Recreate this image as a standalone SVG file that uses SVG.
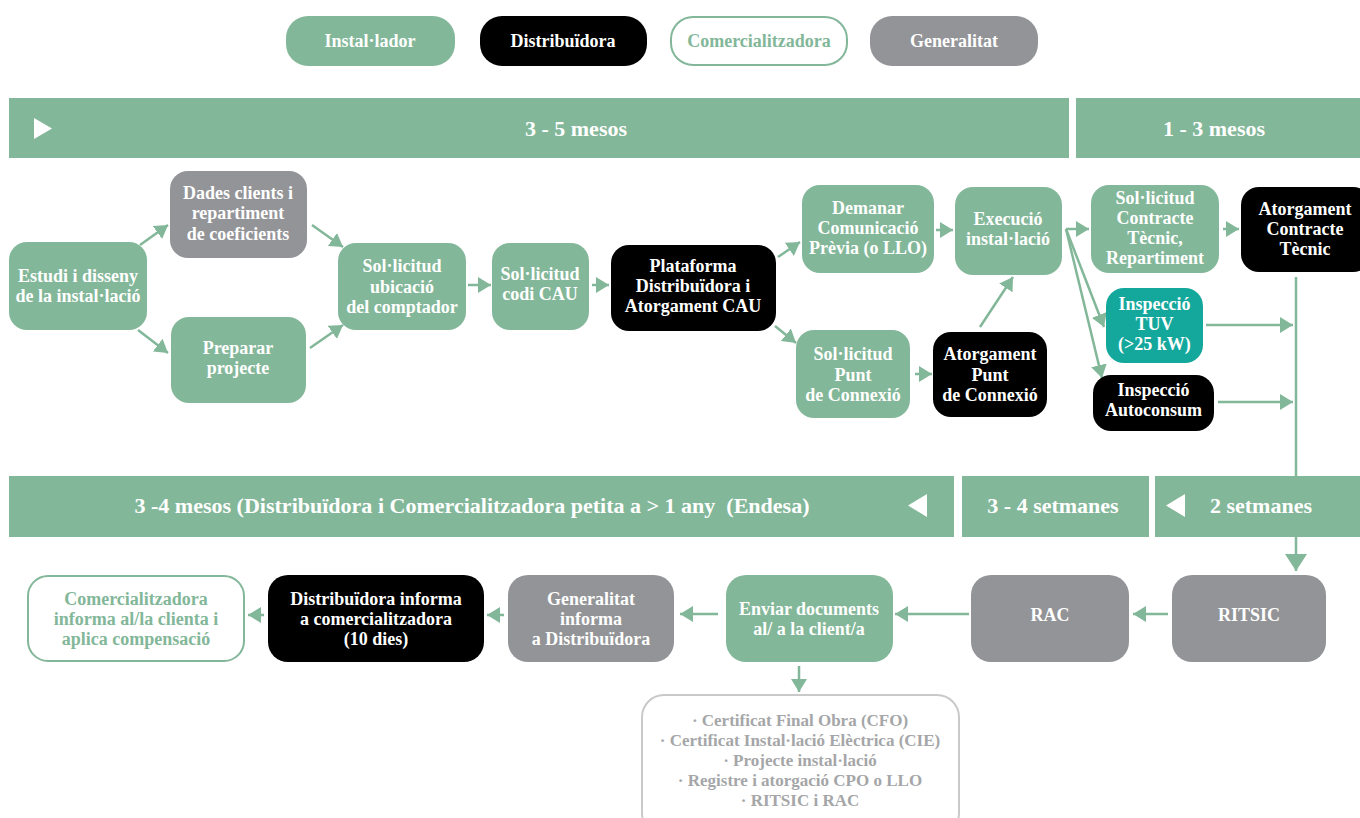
<svg xmlns="http://www.w3.org/2000/svg" width="1360" height="818" viewBox="0 0 1360 818">
<defs>
<style>
.g{fill:#83b799}
.k{fill:#000}
.gr{fill:#939497}
.tl{fill:#14a89d}
.t{font-family:"Liberation Serif",serif;font-weight:bold;font-size:18px;fill:#fff;text-anchor:middle}
.lg{font-size:18px}
.gt{fill:#83b799}
.bt{font-size:22px}
.dt{font-family:"Liberation Serif",serif;font-weight:bold;font-size:17px;fill:#a5a6a8;text-anchor:middle}
.c{stroke:#83b799;stroke-width:2.5;fill:none}
</style>
<marker id="a" markerUnits="userSpaceOnUse" markerWidth="13" markerHeight="16" refX="13" refY="8" orient="auto"><path d="M0,0 L13,8 L0,16 z" fill="#83b799"/></marker>
<marker id="b" markerUnits="userSpaceOnUse" markerWidth="17" markerHeight="22" refX="17" refY="11" orient="auto"><path d="M0,0 L17,11 L0,22 z" fill="#83b799"/></marker>
</defs>
<rect width="1360" height="818" fill="#fff"/>

<g id="legend">
<rect x="286" y="16" width="169" height="50" rx="22" class="g"/>
<text x="370" y="47" class="t lg">Instal·lador</text>
<rect x="480" y="16" width="167" height="50" rx="22" class="k"/>
<text x="563" y="47" class="t lg">Distribuïdora</text>
<rect x="671" y="17" width="176" height="48" rx="22" fill="#fff" stroke="#83b799" stroke-width="2"/>
<text x="759" y="47" class="t lg gt">Comercialitzadora</text>
<rect x="870" y="16" width="168" height="50" rx="22" class="gr"/>
<text x="954" y="47" class="t lg">Generalitat</text>
</g>

<g id="bands">
<rect x="9" y="98" width="1060" height="60" class="g"/>
<path d="M34,118 L52,128.5 L34,139 z" fill="#fff"/>
<text x="576" y="136" class="t bt">3 - 5 mesos</text>
<rect x="1076" y="98" width="284" height="60" class="g"/>
<text x="1214" y="136" class="t bt">1 - 3 mesos</text>
<rect x="9" y="476" width="945" height="61" class="g"/>
<text x="472" y="513" class="t bt" textLength="675" lengthAdjust="spacingAndGlyphs">3 -4 mesos (Distribuïdora i Comercialitzadora petita a &gt; 1 any&#160; (Endesa)</text>
<path d="M927,494 L908,505.5 L927,517 z" fill="#fff"/>
<rect x="962" y="476" width="187" height="61" class="g"/>
<text x="1053" y="513" class="t bt">3 - 4 setmanes</text>
<rect x="1155" y="476" width="205" height="61" class="g"/>
<path d="M1185,494 L1166,505.5 L1185,517 z" fill="#fff"/>
<text x="1261" y="513" class="t bt">2 setmanes</text>
</g>

<g id="connectors">
<line x1="140" y1="245" x2="168" y2="225" class="c" marker-end="url(#a)"/>
<line x1="138" y1="330" x2="168" y2="353" class="c" marker-end="url(#a)"/>
<line x1="312" y1="225" x2="343" y2="247" class="c" marker-end="url(#a)"/>
<line x1="310" y1="348" x2="343" y2="325" class="c" marker-end="url(#a)"/>
<line x1="468" y1="285" x2="491" y2="285" class="c" marker-end="url(#a)"/>
<line x1="592" y1="285" x2="609" y2="285" class="c" marker-end="url(#a)"/>
<line x1="778" y1="257" x2="800" y2="242" class="c" marker-end="url(#a)"/>
<line x1="775" y1="326" x2="796" y2="343" class="c" marker-end="url(#a)"/>
<line x1="936" y1="230" x2="953" y2="230" class="c" marker-end="url(#a)"/>
<line x1="915" y1="374" x2="932" y2="374" class="c" marker-end="url(#a)"/>
<line x1="980" y1="327" x2="1013" y2="277" class="c" marker-end="url(#a)"/>
<line x1="1066" y1="229" x2="1089" y2="229" class="c" marker-end="url(#a)"/>
<line x1="1066" y1="229" x2="1104" y2="327" class="c" marker-end="url(#a)"/>
<line x1="1066" y1="229" x2="1102" y2="378" class="c" marker-end="url(#a)"/>
<line x1="1223" y1="229" x2="1239" y2="229" class="c" marker-end="url(#a)"/>
<line x1="1206" y1="325" x2="1293" y2="325" class="c" marker-end="url(#a)"/>
<line x1="1218" y1="402" x2="1293" y2="402" class="c" marker-end="url(#a)"/>
<line x1="1296" y1="277" x2="1296" y2="476" class="c"/>
<line x1="1296" y1="537" x2="1296" y2="571" class="c" marker-end="url(#b)"/>
<line x1="1168" y1="614" x2="1133" y2="614" class="c" marker-end="url(#a)"/>
<line x1="969" y1="614" x2="895" y2="614" class="c" marker-end="url(#a)"/>
<line x1="718" y1="614" x2="680" y2="614" class="c" marker-end="url(#a)"/>
<line x1="504" y1="615" x2="487" y2="615" class="c" marker-end="url(#a)"/>
<line x1="264" y1="615" x2="248" y2="615" class="c" marker-end="url(#a)"/>
<line x1="799" y1="666" x2="799" y2="692" class="c" marker-end="url(#a)"/>
</g>

<g id="estudi">
<rect x="9" y="242" width="138" height="88" rx="18" class="g"/>
<text x="78" y="282" class="t">Estudi i disseny</text>
<text x="78" y="302" class="t">de la instal·lació</text>
</g>
<g id="dades">
<rect x="170" y="171" width="137" height="87" rx="18" class="gr"/>
<text x="238" y="199" class="t">Dades clients i</text>
<text x="238" y="219" class="t">repartiment</text>
<text x="238" y="240" class="t">de coeficients</text>
</g>
<g id="preparar">
<rect x="171" y="317" width="135" height="86" rx="18" class="g"/>
<text x="238" y="354" class="t">Preparar</text>
<text x="238" y="374" class="t">projecte</text>
</g>
<g id="ubicacio">
<rect x="338" y="243" width="128" height="87" rx="18" class="g"/>
<text x="402" y="272" class="t">Sol·licitud</text>
<text x="402" y="293" class="t">ubicació</text>
<text x="402" y="313" class="t">del comptador</text>
</g>
<g id="codicau">
<rect x="492" y="243" width="97" height="87" rx="18" class="g"/>
<text x="540" y="280" class="t">Sol·licitud</text>
<text x="540" y="300" class="t">codi CAU</text>
</g>
<g id="plataforma">
<rect x="611" y="245" width="165" height="86" rx="18" class="k"/>
<text x="693" y="272" class="t">Plataforma</text>
<text x="693" y="292" class="t">Distribuïdora i</text>
<text x="693" y="312" class="t">Atorgament CAU</text>
</g>
<g id="demanar">
<rect x="802" y="185" width="132" height="88" rx="18" class="g"/>
<text x="868" y="214" class="t">Demanar</text>
<text x="868" y="234" class="t">Comunicació</text>
<text x="868" y="254" class="t">Prèvia (o LLO)</text>
</g>
<g id="execucio">
<rect x="955" y="187" width="107" height="88" rx="18" class="g"/>
<text x="1008" y="225" class="t">Execució</text>
<text x="1008" y="245" class="t">instal·lació</text>
</g>
<g id="solpunt">
<rect x="796" y="330" width="114" height="88" rx="18" class="g"/>
<text x="853" y="360" class="t">Sol·licitud</text>
<text x="853" y="381" class="t">Punt</text>
<text x="853" y="401" class="t">de Connexió</text>
</g>
<g id="atorgpunt">
<rect x="933" y="332" width="114" height="85" rx="18" class="k"/>
<text x="990" y="360" class="t">Atorgament</text>
<text x="990" y="381" class="t">Punt</text>
<text x="990" y="401" class="t">de Connexió</text>
</g>
<g id="solcontracte">
<rect x="1091" y="185" width="128" height="88" rx="18" class="g"/>
<text x="1155" y="204" class="t">Sol·licitud</text>
<text x="1155" y="224" class="t">Contracte</text>
<text x="1155" y="244" class="t">Tècnic,</text>
<text x="1155" y="264" class="t">Repartiment</text>
</g>
<g id="atorgcontracte">
<rect x="1241" y="187" width="130" height="85" rx="18" class="k"/>
<text x="1305" y="215" class="t">Atorgament</text>
<text x="1305" y="235" class="t">Contracte</text>
<text x="1305" y="255" class="t">Tècnic</text>
</g>
<g id="tuv">
<rect x="1106" y="288" width="97" height="75" rx="18" class="tl"/>
<text x="1154.5" y="310" class="t">Inspecció</text>
<text x="1154.5" y="330" class="t">TUV</text>
<text x="1154.5" y="350" class="t">(&gt;25 kW)</text>
</g>
<g id="autoconsum">
<rect x="1093" y="375" width="121" height="56" rx="18" class="k"/>
<text x="1153.5" y="396" class="t">Inspecció</text>
<text x="1153.5" y="416" class="t">Autoconsum</text>
</g>

<g id="ritsic">
<rect x="1172" y="575" width="154" height="87" rx="20" class="gr"/>
<text x="1249" y="621" class="t">RITSIC</text>
</g>
<g id="rac">
<rect x="971" y="575" width="158" height="87" rx="20" class="gr"/>
<text x="1050" y="621" class="t">RAC</text>
</g>
<g id="enviar">
<rect x="726" y="575" width="167" height="87" rx="20" class="g"/>
<text x="809" y="615" class="t">Enviar documents</text>
<text x="809" y="635" class="t">al/ a la client/a</text>
</g>
<g id="generalitat">
<rect x="508" y="575" width="166" height="87" rx="20" class="gr"/>
<text x="591" y="605" class="t">Generalitat</text>
<text x="591" y="625" class="t">informa</text>
<text x="591" y="645" class="t">a Distribuïdora</text>
</g>
<g id="distinforma">
<rect x="268" y="575" width="216" height="87" rx="20" class="k"/>
<text x="376" y="605" class="t">Distribuïdora informa</text>
<text x="376" y="625" class="t">a comercialitzadora</text>
<text x="376" y="645" class="t">(10 dies)</text>
</g>
<g id="cominforma">
<rect x="28" y="576" width="216" height="85" rx="20" fill="#fff" stroke="#83b799" stroke-width="2"/>
<text x="136" y="605" class="t gt">Comercialitzadora</text>
<text x="136" y="625" class="t gt">informa al/la clienta i</text>
<text x="136" y="645" class="t gt">aplica compensació</text>
</g>
<g id="documents">
<rect x="642" y="695" width="317" height="140" rx="22" fill="#fff" stroke="#c9c9ca" stroke-width="2"/>
<text x="800" y="726" class="dt">· Certificat Final Obra (CFO)</text>
<text x="800" y="746" class="dt">· Certificat Instal·lació Elèctrica (CIE)</text>
<text x="800" y="766" class="dt">· Projecte instal·lació</text>
<text x="800" y="786" class="dt">· Registre i atorgació CPO o LLO</text>
<text x="800" y="806" class="dt">· RITSIC i RAC</text>
</g>
</svg>
